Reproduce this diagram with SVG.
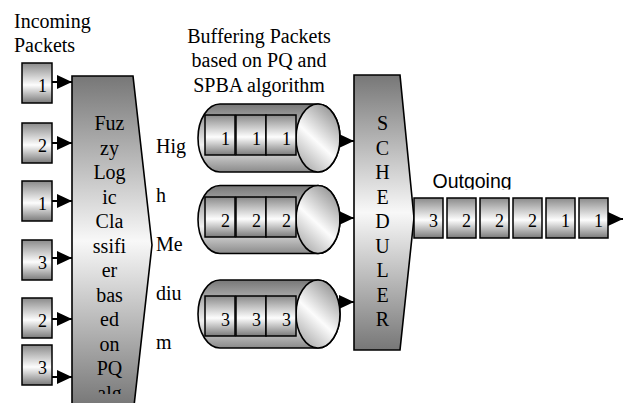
<svg xmlns="http://www.w3.org/2000/svg" width="624" height="403" viewBox="0 0 624 403">
<style>
.t{font-family:"Liberation Serif","Times New Roman",serif;font-size:20px;fill:#000}
.n{font-family:"Liberation Serif","Times New Roman",serif;font-size:18px;fill:#000;text-anchor:end}
.c{text-anchor:middle}
.pk{fill:url(#gBox);stroke:#000;stroke-width:1.5}
.big{fill:url(#gBig);stroke:#000;stroke-width:1.6}
.cyl{fill:url(#gCyl);stroke:#000;stroke-width:1.6}
.cap{fill:url(#gCap);stroke:#000;stroke-width:1.6}
.con{stroke:#000;stroke-width:2;fill:none}
</style>
<defs>
<linearGradient id="gBig" x1="0" y1="0" x2="0" y2="1">
<stop offset="0" stop-color="#777"/><stop offset="0.5" stop-color="#f8f8f8"/><stop offset="1" stop-color="#777"/>
</linearGradient>
<linearGradient id="gBox" x1="0" y1="0" x2="0" y2="1">
<stop offset="0" stop-color="#8a8a8a"/><stop offset="0.55" stop-color="#fdfdfd"/><stop offset="1" stop-color="#7a7a7a"/>
</linearGradient>
<linearGradient id="gCyl" x1="0" y1="0" x2="0" y2="1">
<stop offset="0" stop-color="#777"/><stop offset="0.6" stop-color="#f0f0f0"/><stop offset="1" stop-color="#8a8a8a"/>
</linearGradient>
<linearGradient id="gCap" x1="0.8" y1="0" x2="0.2" y2="1">
<stop offset="0" stop-color="#8f8f8f"/><stop offset="0.55" stop-color="#fcfcfc"/><stop offset="1" stop-color="#a8a8a8"/>
</linearGradient>
<marker id="ah" markerUnits="userSpaceOnUse" markerWidth="15" markerHeight="14" refX="15" refY="7" orient="auto">
<path d="M0,0 L15,7 L0,14 Z" fill="#000"/>
</marker>
<clipPath id="clipC"><rect x="60" y="70" width="100" height="324"/></clipPath>
<clipPath id="clipO"><rect x="420" y="160" width="120" height="29.5"/></clipPath>
</defs>

<g id="title-incoming">
<text class="t" x="14" y="28">Incoming</text>
<text class="t" x="14" y="52">Packets</text>
</g>
<g id="title-buffering">
<text class="t c" x="259" y="42.5">Buffering Packets</text>
<text class="t c" x="259" y="67">based on PQ and</text>
<text class="t c" x="259" y="91.5">SPBA algorithm</text>
</g>

<g id="in1"><rect class="pk" x="22" y="63" width="30" height="40"/><text class="n" x="47" y="92">1</text></g>
<g id="in2"><rect class="pk" x="22" y="123" width="30" height="40"/><text class="n" x="47" y="152">2</text></g>
<g id="in3"><rect class="pk" x="22" y="181" width="30" height="40"/><text class="n" x="47" y="210">1</text></g>
<g id="in4"><rect class="pk" x="22" y="240" width="30" height="40"/><text class="n" x="47" y="269">3</text></g>
<g id="in5"><rect class="pk" x="22" y="298" width="30" height="40"/><text class="n" x="47" y="327">2</text></g>
<g id="in6"><rect class="pk" x="22" y="345" width="30" height="40"/><text class="n" x="47" y="374">3</text></g>

<g id="classifier">
<path class="big" d="M72,76 L133,76 L152,245 L134,406 L72,406 Z"/>
<g clip-path="url(#clipC)">
<text class="t c" x="109.5" y="130">Fuz</text>
<text class="t c" x="109.5" y="154.5">zy</text>
<text class="t c" x="109.5" y="179">Log</text>
<text class="t c" x="109.5" y="203.5">ic</text>
<text class="t c" x="109.5" y="228">Cla</text>
<text class="t c" x="109.5" y="252.5">ssifi</text>
<text class="t c" x="109.5" y="277">er</text>
<text class="t c" x="109.5" y="301.5">bas</text>
<text class="t c" x="109.5" y="326">ed</text>
<text class="t c" x="109.5" y="350.5">on</text>
<text class="t c" x="109.5" y="375">PQ</text>
<text class="t c" x="109.5" y="399.5">alg</text>
</g>
</g>

<g id="priority-labels">
<text class="t" x="156" y="153">Hig</text>
<text class="t" x="156" y="201.5">h</text>
<text class="t" x="156" y="250.5">Me</text>
<text class="t" x="156" y="299.5">diu</text>
<text class="t" x="156" y="348.5">m</text>
</g>

<g id="queue-high">
<path class="cyl" d="M220,104 L318,104 A22,34 0 0 1 318,172 L220,172 A22,34 0 0 1 220,104 Z"/>
<ellipse class="cap" cx="318" cy="138" rx="22" ry="34"/>
<rect class="pk" x="205" y="115" width="30" height="40"/><text class="n" x="230" y="145">1</text>
<rect class="pk" x="236" y="115" width="30" height="40"/><text class="n" x="261" y="145">1</text>
<rect class="pk" x="266" y="115" width="30" height="40"/><text class="n" x="291" y="145">1</text>
</g>
<g id="queue-medium">
<path class="cyl" d="M220,185.5 L318,185.5 A22,34 0 0 1 318,253.5 L220,253.5 A22,34 0 0 1 220,185.5 Z"/>
<ellipse class="cap" cx="318" cy="219.5" rx="22" ry="34"/>
<rect class="pk" x="205" y="197" width="30" height="40"/><text class="n" x="230" y="227">2</text>
<rect class="pk" x="236" y="197" width="30" height="40"/><text class="n" x="261" y="227">2</text>
<rect class="pk" x="266" y="197" width="30" height="40"/><text class="n" x="291" y="227">2</text>
</g>
<g id="queue-low">
<path class="cyl" d="M220,280 L318,280 A22,34 0 0 1 318,348 L220,348 A22,34 0 0 1 220,280 Z"/>
<ellipse class="cap" cx="318" cy="314" rx="22" ry="34"/>
<rect class="pk" x="205" y="296" width="30" height="40"/><text class="n" x="230" y="326">3</text>
<rect class="pk" x="236" y="296" width="30" height="40"/><text class="n" x="261" y="326">3</text>
<rect class="pk" x="266" y="296" width="30" height="40"/><text class="n" x="291" y="326">3</text>
</g>

<g id="scheduler">
<path class="big" d="M354,75 L400,75 L414,218 L400,350 L354,350 Z"/>
<text class="t c" x="382.5" y="130">S</text>
<text class="t c" x="382.5" y="154.5">C</text>
<text class="t c" x="382.5" y="179">H</text>
<text class="t c" x="382.5" y="203.5">E</text>
<text class="t c" x="382.5" y="228">D</text>
<text class="t c" x="382.5" y="252.5">U</text>
<text class="t c" x="382.5" y="277">L</text>
<text class="t c" x="382.5" y="301.5">E</text>
<text class="t c" x="382.5" y="326">R</text>
</g>

<g id="outgoing">
<text x="432.5" y="188" clip-path="url(#clipO)" style="font-family:'Liberation Sans',Arial,sans-serif;font-size:19.5px">Outgoing</text>
<rect class="pk" x="414" y="198" width="29" height="40"/><text class="n" x="438" y="227">3</text>
<rect class="pk" x="447" y="198" width="29" height="40"/><text class="n" x="471" y="227">2</text>
<rect class="pk" x="480" y="198" width="29" height="40"/><text class="n" x="504" y="227">2</text>
<rect class="pk" x="513" y="198" width="29" height="40"/><text class="n" x="537" y="227">2</text>
<rect class="pk" x="546" y="198" width="29" height="40"/><text class="n" x="570" y="227">1</text>
<rect class="pk" x="579" y="198" width="29" height="40"/><text class="n" x="603" y="227">1</text>
</g>

<g id="connectors">
<line class="con" x1="52" y1="82" x2="72" y2="82" marker-end="url(#ah)"/>
<line class="con" x1="52" y1="143" x2="72" y2="143" marker-end="url(#ah)"/>
<line class="con" x1="52" y1="201" x2="72" y2="201" marker-end="url(#ah)"/>
<line class="con" x1="52" y1="258" x2="72" y2="258" marker-end="url(#ah)"/>
<line class="con" x1="52" y1="319" x2="72" y2="319" marker-end="url(#ah)"/>
<line class="con" x1="52" y1="377" x2="72" y2="377" marker-end="url(#ah)"/>
<line class="con" x1="339" y1="141" x2="354" y2="141" marker-end="url(#ah)"/>
<line class="con" x1="339" y1="218" x2="354" y2="218" marker-end="url(#ah)"/>
<line class="con" x1="338" y1="302" x2="354" y2="302" marker-end="url(#ah)"/>
<line class="con" x1="608" y1="219" x2="623" y2="219" marker-end="url(#ah)"/>
</g>
</svg>
